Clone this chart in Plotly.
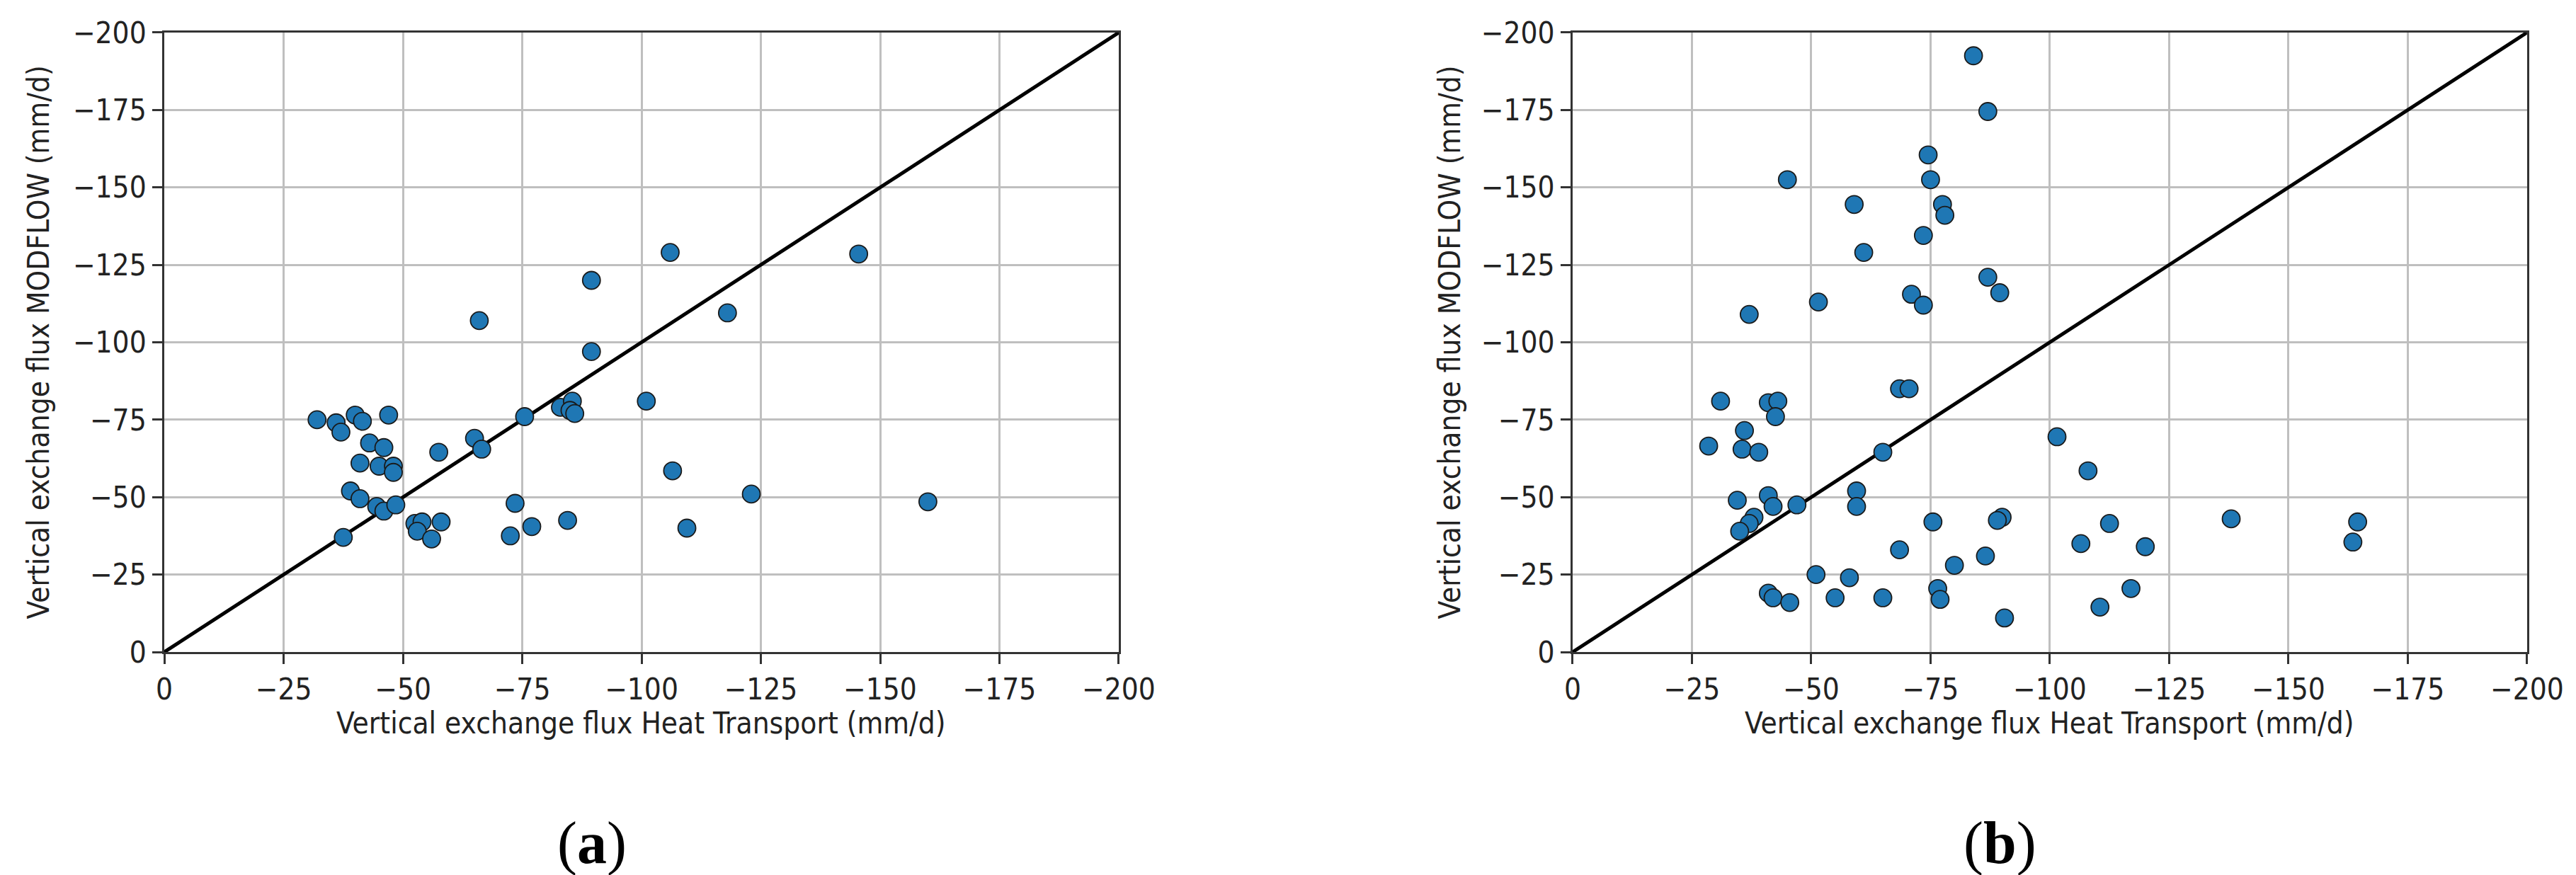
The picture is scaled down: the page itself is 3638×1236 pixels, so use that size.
import plotly.graph_objects as go

# panel (a): vertical exchange flux, heat transport vs MODFLOW (mm/d)
heat_a = [-32, -36, -37, -40, -41.5, -47, -43, -46, -41, -45, -48, -48, -39, -41, -44.5, -46,
          -48.5, -37.5, -52.5, -54, -53, -56, -58, -57.5, -65, -66.5, -66, -75.5, -73.5, -72.5,
          -77, -83, -85.5, -85, -86, -84.5, -89.5, -89.5, -101, -106, -106.5, -109.5, -118,
          -123, -145.5, -160]
modflow_a = [-75, -74, -71, -76.5, -74.5, -76.5, -67.5, -66, -61, -60, -60, -58, -52, -49.5,
             -47, -45.5, -47.5, -37, -41.5, -42, -39, -36.5, -42, -64.5, -69, -65.5, -107, -76,
             -48, -37.5, -40.5, -79, -81, -78, -77, -42.5, -120, -97, -81, -129, -58.5, -40,
             -109.5, -51, -128.5, -48.5]

# panel (b)
heat_b = [-84, -87, -74.5, -75, -45, -59, -77.5, -78, -73.5, -61, -87, -89.5, -71, -73.5,
          -51.5, -37, -31, -41, -43, -42.5, -68.5, -70.5, -36, -28.5, -35.5, -39, -65, -101.5,
          -108, -34.5, -41, -42, -47, -59.5, -59.5, -38, -37, -35, -75.5, -90, -89, -112.5,
          -138, -164.5, -163.5, -106.5, -120, -68.5, -86.5, -80, -51, -58, -76.5, -117, -41,
          -42, -45.5, -55, -65, -77, -110.5, -90.5]
modflow_b = [-192.5, -174.5, -160.5, -152.5, -152.5, -144.5, -144.5, -141, -134.5, -129, -121,
             -116, -115.5, -112, -113, -109, -81, -80.5, -81, -76, -85, -85, -71.5, -66.5,
             -65.5, -64.5, -64.5, -69.5, -58.5, -49, -50.5, -47, -47.5, -52, -47, -43.5, -41.5,
             -39, -42, -43.5, -42.5, -41.5, -43, -42, -35.5, -35, -34, -33, -31, -28, -25, -24,
             -20.5, -20.5, -19, -17.5, -16, -17.5, -17.5, -17, -14.5, -11]

one_to_one = [0, -200]
tick_vals = [0, -25, -50, -75, -100, -125, -150, -175, -200]
tick_text = ["0", "\u221225", "\u221250", "\u221275", "\u2212100", "\u2212125", "\u2212150",
             "\u2212175", "\u2212200"]

FONT = "DejaVu Sans Condensed, DejaVu Sans, sans-serif"
X_TITLE = "Vertical exchange flux Heat Transport (mm/d)"
Y_TITLE = "Vertical exchange flux MODFLOW (mm/d)"

fig = go.Figure()

for heat, modflow, xa, ya in [(heat_a, modflow_a, "x", "y"), (heat_b, modflow_b, "x2", "y2")]:
    fig.add_trace(go.Scatter(
        x=one_to_one, y=one_to_one, mode="lines", xaxis=xa, yaxis=ya,
        line=dict(color="black", width=5), showlegend=False, hoverinfo="skip",
    ))
    fig.add_trace(go.Scatter(
        x=heat, y=modflow, mode="markers", xaxis=xa, yaxis=ya,
        marker=dict(size=25, color="#1f77b4", line=dict(color="#1a1a1a", width=1.8)),
        showlegend=False, cliponaxis=False,
    ))

axis_style = dict(
    range=[0, -200], tickmode="array", tickvals=tick_vals, ticktext=tick_text,
    showgrid=True, gridcolor="#bfbfbf", gridwidth=2.5, zeroline=False,
    showline=True, mirror=True, linecolor="#333333", linewidth=3,
    ticks="outside", ticklen=14, tickwidth=2.5, tickcolor="#333333",
    tickfont=dict(family=FONT, size=42, color="#222222"),
    automargin=False,
)

fig.update_layout(
    width=3638, height=1236, autosize=False,
    margin=dict(l=0, r=0, t=0, b=0, pad=0, autoexpand=False),
    plot_bgcolor="white", paper_bgcolor="white",
    xaxis=dict(domain=[0.0616, 0.4321], anchor="y", **axis_style),
    yaxis=dict(domain=[0.2613, 0.9693], anchor="x", **axis_style),
    xaxis2=dict(domain=[0.6083, 0.9788], anchor="y2", **axis_style),
    yaxis2=dict(domain=[0.2613, 0.9693], anchor="x2", **axis_style),
)

title_font = dict(family=FONT, size=42, color="#222222")
for xc, yt_x, label in [(0.2468, 0.0129, "a"), (0.7935, 0.5605, "b")]:
    fig.add_annotation(text=X_TITLE, xref="paper", yref="paper", x=xc, y=0.1804,
                       xanchor="center", yanchor="middle", showarrow=False, font=title_font)
    fig.add_annotation(text=Y_TITLE, xref="paper", yref="paper", x=yt_x, y=0.6153,
                       xanchor="center", yanchor="middle", textangle=-90, showarrow=False,
                       font=title_font)
    fig.add_annotation(text=f"(<b>{label}</b>)", xref="paper", yref="paper",
                       x=xc - 0.0193, y=0.0429, xanchor="center", yanchor="middle",
                       showarrow=False,
                       font=dict(family="Liberation Serif, Times New Roman, serif", size=84,
                                 color="black"))

fig.write_html("out.html")
